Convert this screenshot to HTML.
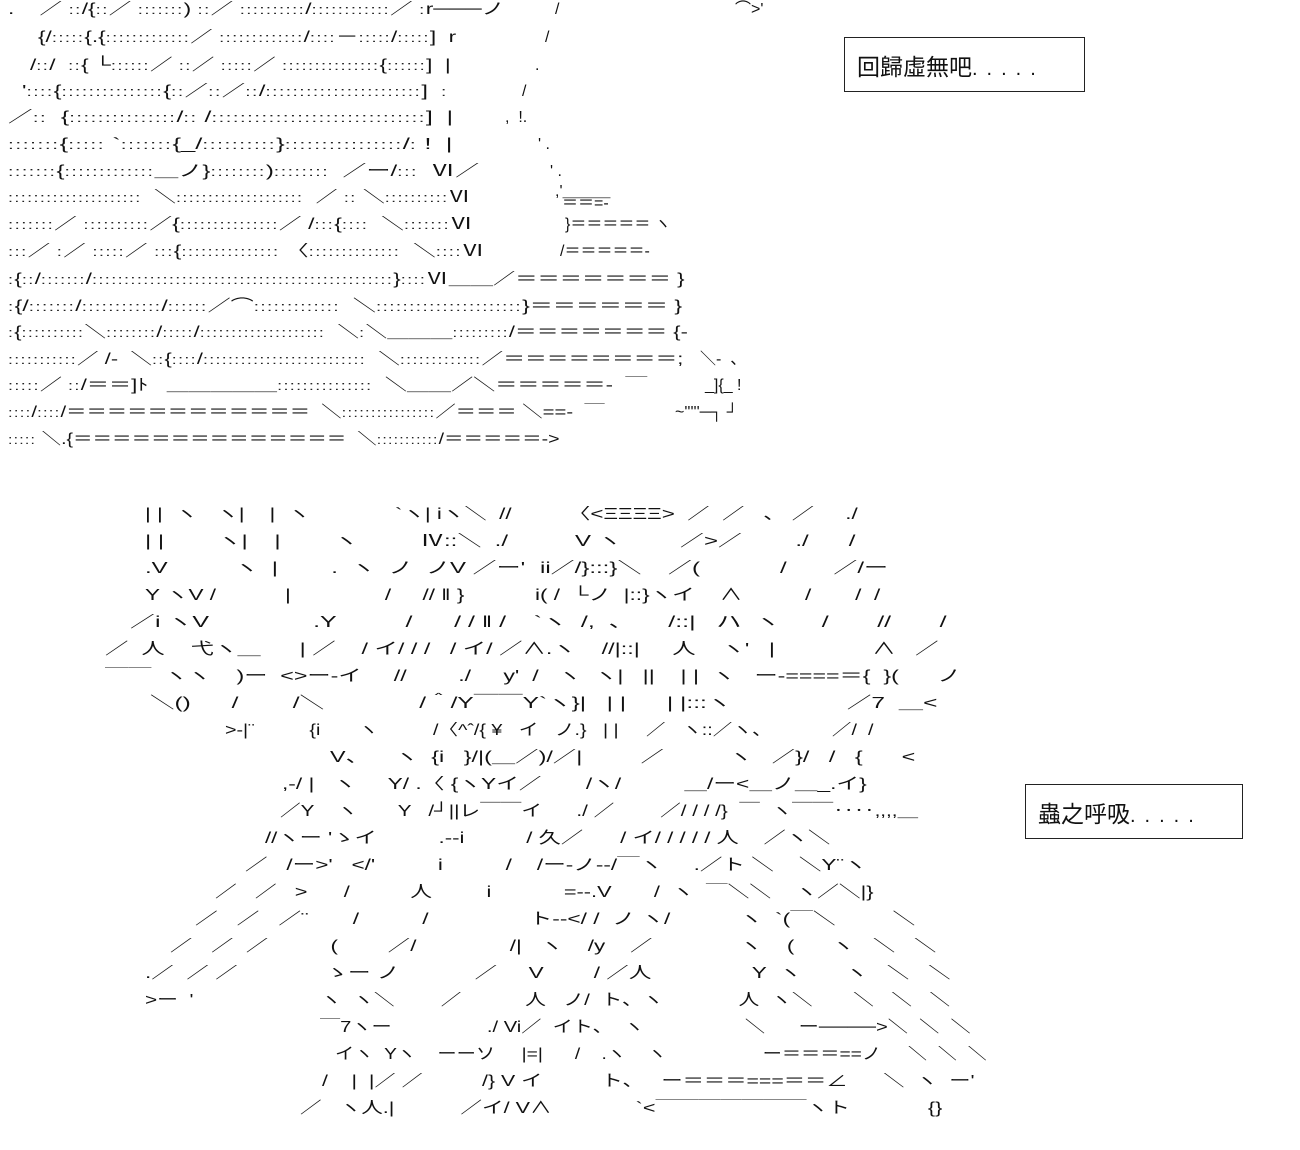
<!DOCTYPE html>
<html><head><meta charset="utf-8">
<style>
html,body{margin:0;padding:0;background:#fff;}
body{width:1300px;height:1150px;position:relative;overflow:hidden;font-family:"Liberation Sans","Noto Sans CJK JP",sans-serif;font-size:16px;color:#111;}
.l{position:absolute;left:0;height:20px;line-height:20px;white-space:pre;--s:1;}
.l span{position:absolute;top:0;white-space:pre;transform:scaleX(var(--s));transform-origin:0 0;}
.l span.n{transform:none;}
i{font-style:normal;letter-spacing:1px;font-size:13px;color:#222}
.box{position:absolute;border:1px solid #222;box-sizing:border-box;font-size:23px;line-height:24px;white-space:pre;}
.box em{font-style:normal;letter-spacing:9px;font-size:20px;}
</style></head><body>

<div class="l" style="top:0;--s:1.42"><span style="left:8px">.    ／ <i>::</i>/{<i>::</i>／ <i>:::::::</i>) <i>::</i>／ <i>::::::::::</i>/<i>::::::::::::</i>／ <i>:</i>r───ノ</span><span class="n" style="left:555px">/</span><span class="n" style="left:735px">⌒&gt;'</span></div>
<div class="l" style="top:28px;--s:1.41"><span style="left:38px">{/<i>:::::</i>{.{<i>:::::::::::::</i>／ <i>:::::::::::::</i>/<i>::::</i>－<i>:::::</i>/<i>:::::</i>]  r</span><span class="n" style="left:545px">/</span></div>
<div class="l" style="top:56px;--s:1.41"><span style="left:30px">/<i>::</i>/  <i>::</i>{ └<i>::::::</i>／ <i>::</i>／ <i>:::::</i>／ <i>:::::::::::::::</i>{<i>::::::</i>]  |</span><span class="n" style="left:535px">.</span></div>
<div class="l" style="top:82px;--s:1.47"><span style="left:22px">'<i>::::</i>{<i>:::::::::::::::</i>{<i>::</i>／<i>::</i>／<i>::</i>/<i>:::::::::::::::::::::::</i>]  <i>:</i></span><span class="n" style="left:522px">/</span></div>
<div class="l" style="top:108px;--s:1.55"><span style="left:8px">／<i>::</i>  {<i>:::::::::::::::</i>/<i>::</i> /<i>::::::::::::::::::::::::::::::</i>]  |</span><span class="n" style="left:505px">,  !.</span></div>
<div class="l" style="top:135px;--s:1.6"><span style="left:8px"><i>:::::::</i>{<i>:::::</i> `<i>:::::::</i>{_/<i>::::::::::</i>}<i>::::::::::::::::</i>/<i>:</i> !  |</span><span class="n" style="left:538px">' .</span></div>
<div class="l" style="top:162px;--s:1.5"><span style="left:8px"><i>:::::::</i>{<i>:::::::::::::</i>＿ノ}<i>::::::::</i>)<i>::::::::</i>  ／ー/<i>:::</i>  Ⅵ／</span><span class="n" style="left:550px">' .</span></div>
<div class="l" style="top:188px;--s:1.38"><span style="left:8px"><i>:::::::::::::::::::::</i>  ＼<i>::::::::::::::::::::</i>  ／ <i>::</i> ＼<i>::::::::::</i>Ⅵ</span><span class="n" style="left:555px;top:-6px">,'＿＿＿</span><span class="n" style="left:562px;top:6px">＝＝=-</span></div>
<div class="l" style="top:215px;--s:1.43"><span style="left:8px"><i>:::::::</i>／ <i>::::::::::</i>／{<i>:::::::::::::::</i>／ /<i>:::</i>{<i>::::</i>  ＼<i>:::::::</i>Ⅵ</span><span class="n" style="left:565px">}＝＝＝＝＝ ヽ</span></div>
<div class="l" style="top:242px;--s:1.42"><span style="left:8px"><i>:::</i>／ <i>:</i>／ <i>:::::</i>／ <i>:::</i>{<i>:::::::::::::::</i> 〈<i>::::::::::::::</i>  ＼<i>::::</i>Ⅵ</span><span class="n" style="left:560px">/＝＝＝＝＝-</span></div>
<div class="l" style="top:270px;--s:1.39"><span style="left:8px"><i>:</i>{<i>::</i>/<i>:::::::</i>/<i>:::::::::::::::::::::::::::::::::::::::::::::::</i>}<i>::::</i>Ⅵ＿＿／＝＝＝＝＝＝＝ }</span></div>
<div class="l" style="top:297px;--s:1.44"><span style="left:8px"><i>:</i>{/<i>:::::::</i>/<i>::::::::::::</i>/<i>::::::</i>／⌒<i>:::::::::::::</i>  ＼<i>::::::::::::::::::::::</i>}＝＝＝＝＝＝ }</span></div>
<div class="l" style="top:323px;--s:1.36"><span style="left:8px"><i>:</i>{<i>::::::::::</i>＼<i>::::::::</i>/<i>:::::</i>/<i>::::::::::::::::::::</i>  ＼<i>:</i>＼＿＿＿<i>:::::::::</i>/＝＝＝＝＝＝＝ {-</span></div>
<div class="l" style="top:350px;--s:1.36"><span style="left:8px"><i>:::::::::::</i>／ /-  ＼<i>::</i>{<i>::::</i>/<i>::::::::::::::::::::::::::</i>  ＼<i>:::::::::::::</i>／＝＝＝＝＝＝＝＝;</span><span class="n" style="left:700px">＼-  、</span></div>
<div class="l" style="top:376px;--s:1.38"><span style="left:8px"><i>:::::</i>／ <i>::</i>/＝＝]ﾄ   ＿＿＿＿＿<i>:::::::::::::::</i>  ＼＿＿／＼＝＝＝＝＝-  ￣</span><span class="n" style="left:705px">_]{_ !</span></div>
<div class="l" style="top:403px;--s:1.27"><span style="left:8px"><i>::::</i>/<i>::::</i>/＝＝＝＝＝＝＝＝＝＝＝＝  ＼<i>::::::::::::::::</i>／＝＝＝ ＼==-  ￣</span><span class="n" style="left:675px">~'''''─┐ ┘</span></div>
<div class="l" style="top:430px;--s:1.22"><span style="left:8px"><i>:::::</i> ＼.{＝＝＝＝＝＝＝＝＝＝＝＝＝＝  ＼<i>:::::::::::</i>/＝＝＝＝＝-&gt;</span></div>

<div class="box" style="left:844px;top:37px;width:241px;height:55px;padding:17px 0 0 12px;">回歸虛無吧<em>.....</em></div>
<div class="box" style="left:1025px;top:784px;width:218px;height:55px;padding:17px 0 0 12px;">蟲之呼吸<em>.....</em></div>

<div class="l" style="top:505px;--s:1.4"><span style="left:145px">| |  ヽ   ヽ|    |  ヽ</span><span style="left:395px">`ヽ| iヽ＼  //</span><span style="left:568px">〈&lt;ΞΞΞΞ&gt;  ／  ／   、 ／     ./</span></div>
<div class="l" style="top:532px;--s:1.5"><span style="left:145px">| |        ヽ|    |        ヽ</span><span style="left:420px">Ⅳ::＼  ./</span><span style="left:575px">V ヽ</span><span style="left:680px">／&gt;／        ./      /</span></div>
<div class="l" style="top:559px;--s:1.5"><span style="left:145px">.V          ヽ  |        .  ヽ  ノ  ノV ／ー'</span><span style="left:540px">ii／/}:::}＼    ／(            /       ／/ー</span></div>
<div class="l" style="top:586px;--s:1.41"><span style="left:145px">Y ヽV /           |               /     // ‖ }</span><span style="left:535px">i( /  └ノ  |::}ヽイ    ∧          /       /  /</span></div>
<div class="l" style="top:613px;--s:1.56"><span style="left:130px">／i ヽV               .Y          /      / / ‖ /    `ヽ  /,  、     /::|   ハ  ヽ      /       //       /</span></div>
<div class="l" style="top:640px;--s:1.46"><span style="left:105px">／  人    弋ヽ＿      | ／    / イ/ / /   / イ/ ／∧.ヽ    //|::|     人    ヽ'   |               ∧   ／</span></div>
<div class="l" style="top:667px;--s:1.45"><span style="left:105px">￣￣  ヽヽ    )ー  &lt;&gt;ー-イ     //        ./     y'  /   ヽ  ヽ|   ||    | |  ヽ   ー-====＝{  }(      ノ</span></div>
<div class="l" style="top:694px;--s:1.53"><span style="left:150px">＼()      /        /＼              /＾/Y￣￣Y`ヽ}|   | |      | |:::ヽ                 ／7  ＿&lt;</span></div>
<div class="l" style="top:721px;--s:1.23"><span style="left:225px">&gt;-|¨          {i       ヽ          /〈^ˆ/{ ¥   イ   ノ.}   | |     ／   ヽ::／ヽ、           ／/  /</span></div>
<div class="l" style="top:748px;--s:1.46"><span style="left:330px">V、    ヽ  {i   }/|(＿／)/／|         ／          ヽ   ／}/   /   {      &lt;</span></div>
<div class="l" style="top:775px;--s:1.42"><span style="left:282px">,-/ |   ヽ     Y/ .〈 {ヽYイ／       /ヽ/          ＿/ー&lt;＿ノ＿_.イ}</span></div>
<div class="l" style="top:802px;--s:1.29"><span style="left:280px">／Y    ヽ       Y   /┘||レ￣￣イ      ./ ／        ／/ / / /}  ￣  ヽ￣￣‥‥,,,,＿</span></div>
<div class="l" style="top:829px;--s:1.39"><span style="left:265px">//ヽー 'ゝイ          .--i          / 久／      / イ/ / / / / 人    ／ヽ＼</span></div>
<div class="l" style="top:856px;--s:1.41"><span style="left:245px">／   /ー&gt;'   &lt;/'          i          /    /ー-ノ--/￣ヽ     .／ト ＼    ＼Y¨ヽ</span></div>
<div class="l" style="top:883px;--s:1.36"><span style="left:215px">／   ／   &gt;      /          人         i            =--.V       /  ヽ  ￣＼＼    ヽ／＼|}</span></div>
<div class="l" style="top:910px;--s:1.42"><span style="left:195px">／   ／   ／¨       /          /                ト‐‐&lt;/ /  ノ ヽ/           ヽ  `(￣＼         ＼</span></div>
<div class="l" style="top:937px;--s:1.4"><span style="left:170px">／   ／  ／          (        ／/               /|   ヽ    /y    ／              ヽ    (      ヽ   ＼   ＼</span></div>
<div class="l" style="top:964px;--s:1.41"><span style="left:145px">.／  ／ ／              ゝー ノ            ／     V        / ／人                Y  ヽ       ヽ   ＼   ＼</span></div>
<div class="l" style="top:991px;--s:1.3"><span style="left:145px">&gt;ー  '                      ヽ  ヽ＼        ／           人   ノ/  ト、ヽ             人  ヽ＼       ＼   ＼   ＼</span></div>
<div class="l" style="top:1018px;--s:1.26"><span style="left:320px">￣7ヽー                 ./ Vi／  イト、  ヽ                  ＼      ー────&gt;＼  ＼  ＼</span></div>
<div class="l" style="top:1045px;--s:1.2"><span style="left:335px">イヽ  Yヽ    ーーソ     |=|      /    .ヽ    ヽ                  ー＝＝＝==ノ     ＼  ＼  ＼</span></div>
<div class="l" style="top:1072px;--s:1.33"><span style="left:322px">/    |  |／ ／          /} V イ          ト、   ー＝＝＝===＝＝∠      ＼  ヽ  ー'</span></div>
<div class="l" style="top:1099px;--s:1.35"><span style="left:300px">／   ヽ人.|           ／イ/ V∧              `&lt;￣￣￣￣￣￣￣ヽト             {}</span></div>

</body></html>
